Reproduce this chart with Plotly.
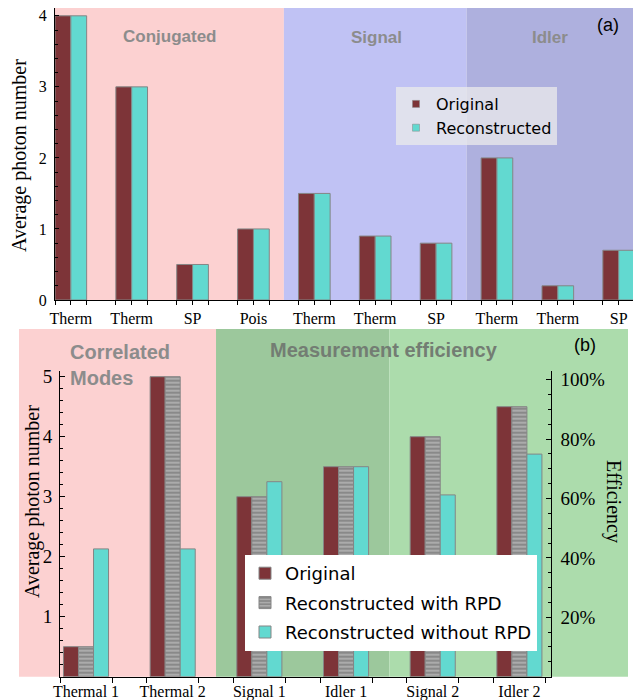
import plotly.graph_objects as go

# page body has an 8px margin: the figure is drawn 8px right/down of the window corner
OX, OY = 8, 8
W, H = 641 - OX, 700 - OY

# ---------------- data: panel (a) ----------------
a_categories = ["Therm", "Therm", "SP", "Pois", "Therm", "Therm", "SP", "Therm", "Therm", "SP"]
a_original = [4, 3, 0.5, 1, 1.5, 0.9, 0.8, 2, 0.2, 0.7]
a_reconstructed = [4, 3, 0.5, 1, 1.5, 0.9, 0.8, 2, 0.2, 0.7]
a_yticks = [0, 1, 2, 3, 4]
a_regions = ["Conjugated", "Signal", "Idler"]

# ---------------- data: panel (b) ----------------
b_categories = ["Thermal 1", "Thermal 2", "Signal 1", "Idler 1", "Signal 2", "Idler 2"]
b_original = [0.5, 5, 3, 3.5, 4, 4.5]
b_rpd = [0.5, 5, 3, 3.5, 4, 4.5]
b_norpd = [2.13, 2.13, 3.25, 3.5, 3.03, 3.71]
b_yticks = [1, 2, 3, 4, 5]
b_eff_ticks = [20, 40, 60, 80, 100]
b_eff_labels = ["20%", "40%", "60%", "80%", "100%"]
b_regions = ["Correlated<br>Modes", "Measurement efficiency"]

# ---------------- style ----------------
MAROON = "#7d3438"
CYAN = "#62d9d0"
GRAY_FG = "#686868"
GRAY_BG = "#ababab"
EDGE = "#858585"
SERIF = "Liberation Serif"
SANS = "Liberation Sans"

# window pixels -> paper
def px(x):
    return (x - OX) / W

def py(y):
    return min(1.0, (H - (y - OY)) / H)

a_xdom = [px(55), px(634.5)]
a_ydom = [py(300), py(8)]
a_xr = [-0.26, 9.26]
a_yr = [0, 4.11]

b_xdom = [px(60), px(550.6)]
b_ydom = [py(676.7), py(370.7)]
b_xr = [-0.3, 5.36]
b_yr = [0, 5.1]
b_eff_r = [0, 103]

def bx(v):
    return b_xdom[0] + (v - b_xr[0]) / (b_xr[1] - b_xr[0]) * (b_xdom[1] - b_xdom[0])

a_x = list(range(len(a_categories)))
b_x = list(range(len(b_categories)))

fig = go.Figure()

# panel (a) bars
fig.add_trace(go.Bar(x=a_x, y=a_original, name="Original", marker=dict(color=MAROON, line=dict(color=EDGE, width=1)),
                     xaxis="x", yaxis="y", showlegend=False))
fig.add_trace(go.Bar(x=a_x, y=a_reconstructed, name="Reconstructed", marker=dict(color=CYAN, line=dict(color=EDGE, width=1)),
                     xaxis="x", yaxis="y", showlegend=False))
# legend entries for panel (a) (small square symbols)
fig.add_trace(go.Scatter(x=[None], y=[None], mode="markers", name="Original",
                         marker=dict(symbol="square", size=7, color=MAROON, line=dict(color=EDGE, width=0.5)),
                         xaxis="x", yaxis="y", legend="legend"))
fig.add_trace(go.Scatter(x=[None], y=[None], mode="markers", name="Reconstructed",
                         marker=dict(symbol="square", size=7, color=CYAN, line=dict(color=EDGE, width=0.5)),
                         xaxis="x", yaxis="y", legend="legend"))

# panel (b) bars
fig.add_trace(go.Bar(x=b_x, y=b_original, name="Original", marker=dict(color=MAROON, line=dict(color=EDGE, width=1)),
                     xaxis="x2", yaxis="y2", legend="legend2", legendgroup="g1"))
fig.add_trace(go.Bar(x=b_x, y=b_rpd, name="Reconstructed with RPD",
                     marker=dict(color=GRAY_BG, line=dict(color=EDGE, width=1),
                                 pattern=dict(shape="-", fgcolor=GRAY_FG, bgcolor=GRAY_BG, size=4, solidity=0.5)),
                     xaxis="x2", yaxis="y2", legend="legend2", legendgroup="g2"))
fig.add_trace(go.Bar(x=b_x, y=b_norpd, name="Reconstructed without RPD", marker=dict(color=CYAN, line=dict(color=EDGE, width=1)),
                     xaxis="x2", yaxis="y2", legend="legend2", legendgroup="g3"))
# efficiency axis carrier
fig.add_trace(go.Scatter(x=[None], y=[None], xaxis="x2", yaxis="y3", showlegend=False, hoverinfo="skip"))

shapes = []
# panel (a) regions
a_bounds = [(-0.26, 3.5, "#fcd1d1"), (3.5, 6.5, "#c0c2f4"), (6.5, 9.26, "#aeb0de")]
for x0, x1, c in a_bounds:
    shapes.append(dict(type="rect", xref="x", yref="y", x0=x0, x1=x1, y0=0, y1=a_yr[1],
                       fillcolor=c, line=dict(width=0), layer="below"))
# panel (b) regions (extend beyond plot area)
b_top = py(329)
b_bounds = [(px(19), bx(1.5), "#fcd1d1"), (bx(1.5), bx(3.5), "#9cc89c"), (bx(3.5), px(628), "#acdcac")]
for x0, x1, c in b_bounds:
    shapes.append(dict(type="rect", xref="paper", yref="paper", x0=x0, x1=x1, y0=b_ydom[0], y1=b_top,
                       fillcolor=c, line=dict(width=0), layer="below"))

annotations = []
def ann(text, x, y, size, color="black", family=SANS, weight="normal", angle=0, xanchor="center", align="center"):
    annotations.append(dict(text=text, x=px(x), y=py(y), xref="paper", yref="paper", showarrow=False,
                            xanchor=xanchor, yanchor="middle", textangle=angle, align=align,
                            font=dict(family=family, size=size, color=color, weight=weight)))

ann(a_regions[0], 170, 37, 17, "#8c8c8c", weight="bold")
ann(a_regions[1], 376, 38, 17, "#8c8c8c", weight="bold")
ann(a_regions[2], 550, 38, 17, "#8c8c8c", weight="bold")
ann("(a)", 608, 25, 18)
ann(b_regions[0], 68, 365, 20, "#8c8c8c", weight="bold", xanchor="left", align="left")
ann(b_regions[1], 384, 350, 20, "#737d73", weight="bold")
ann("(b)", 585, 345, 18)
ann("Average photon number", 20, 156, 20, family=SERIF, angle=-90)
ann("Average photon number", 33, 502, 20, family=SERIF, angle=-90)
ann("Efficiency", 614, 501, 20, family=SERIF, angle=90)

axis_common = dict(showline=True, linecolor="black", linewidth=1, showgrid=False, zeroline=False,
                   tickcolor="black", automargin=False, ticklabeloverflow="allow")

fig.update_layout(
    width=W, height=H,
    margin=dict(l=0, r=0, t=0, b=0, autoexpand=False),
    paper_bgcolor="white", plot_bgcolor="rgba(0,0,0,0)",
    barmode="group",
    shapes=shapes, annotations=annotations,
    xaxis=dict(domain=a_xdom, range=a_xr, anchor="y", tickmode="array", tickvals=a_x, ticktext=a_categories,
               ticks="outside", ticklen=4, minor=dict(tickvals=[v + d for v in a_x for d in (-0.26, 0.26)],
                                                     ticks="outside", ticklen=4, tickcolor="black"),
               tickfont=dict(family=SERIF, size=16, color="black"), **axis_common),
    yaxis=dict(domain=a_ydom, range=a_yr, anchor="x", tickmode="array", tickvals=a_yticks,
               ticks="inside", ticklen=4, ticklabelstandoff=4,
               minor=dict(dtick=0.2, tick0=0, ticks="inside", ticklen=2.5, tickcolor="black"),
               tickfont=dict(family=SERIF, size=16, color="black"), **axis_common),
    xaxis2=dict(domain=b_xdom, range=b_xr, anchor="y2", tickmode="array", tickvals=b_x, ticktext=b_categories,
                ticks="outside", ticklen=0,
                minor=dict(tickvals=[v + d for v in b_x for d in (-0.3, 0.3)], ticks="outside", ticklen=5,
                           tickcolor="black"),
                tickfont=dict(family=SERIF, size=16, color="black"), **axis_common),
    yaxis2=dict(domain=b_ydom, range=b_yr, anchor="x2", tickmode="array", tickvals=b_yticks,
                ticks="inside", ticklen=5, ticklabelstandoff=3,
                minor=dict(dtick=0.2, tick0=0, ticks="inside", ticklen=3, tickcolor="black"),
                tickfont=dict(family=SERIF, size=19, color="black"), **axis_common),
    yaxis3=dict(overlaying="y2", side="right", anchor="x2", range=b_eff_r, tickmode="array",
                tickvals=b_eff_ticks, ticktext=b_eff_labels, ticks="inside", ticklen=5, ticklabelstandoff=5,
                minor=dict(dtick=5, tick0=0, ticks="inside", ticklen=3, tickcolor="black"),
                tickfont=dict(family=SERIF, size=19, color="black"), **axis_common),
    bargap=0.48,
    legend=dict(x=px(396), y=py(87), xanchor="left", yanchor="top", bgcolor="rgba(235,235,235,0.75)",
                font=dict(family="DejaVu Sans", size=16, color="black"), borderwidth=0, itemwidth=30),
    legend2=dict(x=px(245), y=py(555), xanchor="left", yanchor="top", bgcolor="white",
                 font=dict(family="DejaVu Sans", size=18, color="black"), borderwidth=0,
                 traceorder="grouped", tracegroupgap=3),
)

fig.write_html("out.html")
